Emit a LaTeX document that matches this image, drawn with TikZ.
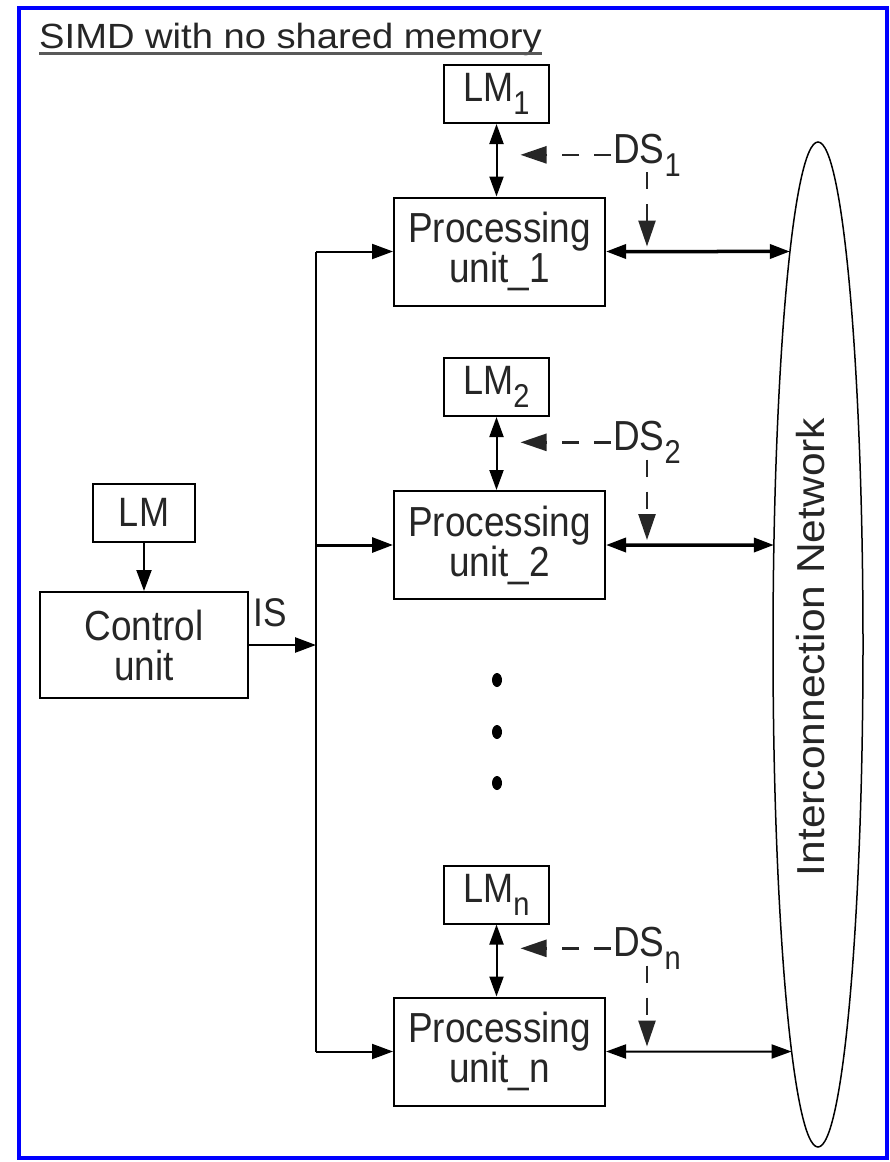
\documentclass[tikz,border=0pt]{standalone}
\usepackage{fontspec}
\setmainfont{Liberation Sans}
\newfontfamily\boxfont[FakeStretch=0.88]{Liberation Sans}
\newfontfamily\widefont[FakeStretch=1.09]{Liberation Sans}
\usetikzlibrary{arrows.meta,shapes.geometric,intersections,calc}
\newcommand{\mysub}[1]{\raisebox{-13pt}{\fontsize{33}{33}\selectfont #1}}
\begin{document}
\begin{tikzpicture}[x=1pt,y=-1pt,
  box/.style={draw=black, line width=2pt, inner sep=0pt, text=black!85, align=center,
    font=\boxfont\fontsize{42}{40}\selectfont},
  pu/.style={box, minimum width=211pt, minimum height=108pt},
  lm/.style={box, minimum width=105pt, minimum height=58pt, font=\boxfont\fontsize{41}{41}\selectfont},
  lbl/.style={inner sep=0pt, text=black!85, font=\boxfont\fontsize{42}{42}\selectfont},
  conn/.style={line width=2.5pt, -{Triangle[length=21pt,width=15pt]}},
  dconn/.style={line width=2.5pt, {Triangle[length=20pt,width=14pt]}-{Triangle[length=20pt,width=14pt]}},
  dsconn/.style={line width=2.5pt, draw=black!85, dash pattern=on 17pt off 15pt,
    -{Triangle[length=26pt,width=17pt]}},
  dot/.style={ellipse, fill=black, minimum width=10pt, minimum height=14pt, inner sep=0pt},
]
\useasboundingbox (0,0) rectangle (890,1162);
\fill[white] (0,0) rectangle (890,1162);
\draw[blue, line width=4pt] (19,8) rectangle (887,1158);

% title
\node[anchor=base west, inner sep=0pt, text=black!85, font=\widefont\fontsize{35}{35}\selectfont]
  (title) at (39,48) {SIMD with no shared memory};
\draw[line width=3pt, black!65] ([yshift=-5pt]title.base west) -- ([yshift=-5pt]title.base east);

% processing units and local memories
\node[lm] (LM1) at (496.5,94) {LM\mysub{1}};
\node[pu] (PU1) at (499.5,251.5) {Processing\\unit\_1};
\node[lm] (LM2) at (496.5,387) {LM\mysub{2}};
\node[pu] (PU2) at (499.5,545) {Processing\\unit\_2};
\node[lm] (LMn) at (496.5,894.5) {LM\mysub{n}};
\node[pu] (PUn) at (499.5,1051.5) {Processing\\unit\_n};

% control side
\node[lm, minimum width=102pt] (LM) at (144,512.5) {LM};
\node[box, minimum width=208pt, minimum height=106pt] (CU) at (144,645) {Control\\unit};
\node[lbl, font=\boxfont\fontsize{40}{40}\selectfont] (IS) at (270,613) {IS};

% DS labels
\node[lbl, anchor=base west] (DS1) at (613,163) {DS\mysub{1}};
\node[lbl, anchor=base west] (DS2) at (613,450.5) {DS\mysub{2}};
\node[lbl, anchor=base west] (DSn) at (613,956.5) {DS\mysub{n}};

% dots
\node[dot] (dot1) at (497,680) {};
\node[dot] (dot2) at (497,732) {};
\node[dot] (dot3) at (497,783) {};

% interconnection network
\node[draw=black, ellipse, line width=1.5pt, minimum width=90pt, minimum height=1005pt, inner sep=0pt]
  (net) at (818,644.5) {};
\path[name path=netp] (net.center) ellipse [x radius=45pt, y radius=502.5pt];
\node[rotate=90, inner sep=0pt, text=black!85, font=\widefont\fontsize{39}{39}\selectfont]
  (nettext) at (811,647) {Interconnection Network};

% bus
\coordinate (busx) at (316,0);
\draw[line width=2pt] (busx |- PU1.west) -- (busx |- PUn.west);
\draw[conn, line width=2pt] (busx |- PU1.west) -- (PU1.west);
\draw[conn, line width=3pt] (busx |- PU2.west) -- (PU2.west);
\draw[conn, line width=2pt] (busx |- PUn.west) -- (PUn.west);
\draw[conn, line width=2.5pt] (CU.east) -- (busx |- CU.east);
\draw[conn, line width=2pt] (LM.south) -- (CU.north);

% LM <-> PU
\draw[dconn, line width=2pt] (LM1.south) -- (LM1.south |- PU1.north);
\draw[dconn, line width=2pt] (LM2.south) -- (LM2.south |- PU2.north);
\draw[dconn, line width=2pt] (LMn.south) -- (LMn.south |- PUn.north);

% DS dashed arrows
\foreach \i in {1,2,n}{
  \draw[dsconn] ([xshift=-2pt]DS\i.west) -- ([xshift=24pt]LM\i.south |- DS\i.west);
  \draw[dsconn] ($(DS\i.south west)+(34,-4)$) -- ($(DS\i.south west |- PU\i.east)+(34,-5)$);
}

% PU <-> network
\path[name path=h1] (PU1.east) -- ++(200,0);
\path[name path=h2] (PU2.east) -- ++(200,0);
\path[name path=hn] (PUn.east) -- ++(200,0);
\draw[dconn, line width=3.5pt, name intersections={of=netp and h1, by=e1}] (PU1.east) -- (e1);
\draw[dconn, line width=3.5pt, name intersections={of=netp and h2, by=e2}] (PU2.east) -- (e2);
\draw[dconn, line width=2pt, name intersections={of=netp and hn, by=en}] (PUn.east) -- (en);
\end{tikzpicture}
\end{document}
